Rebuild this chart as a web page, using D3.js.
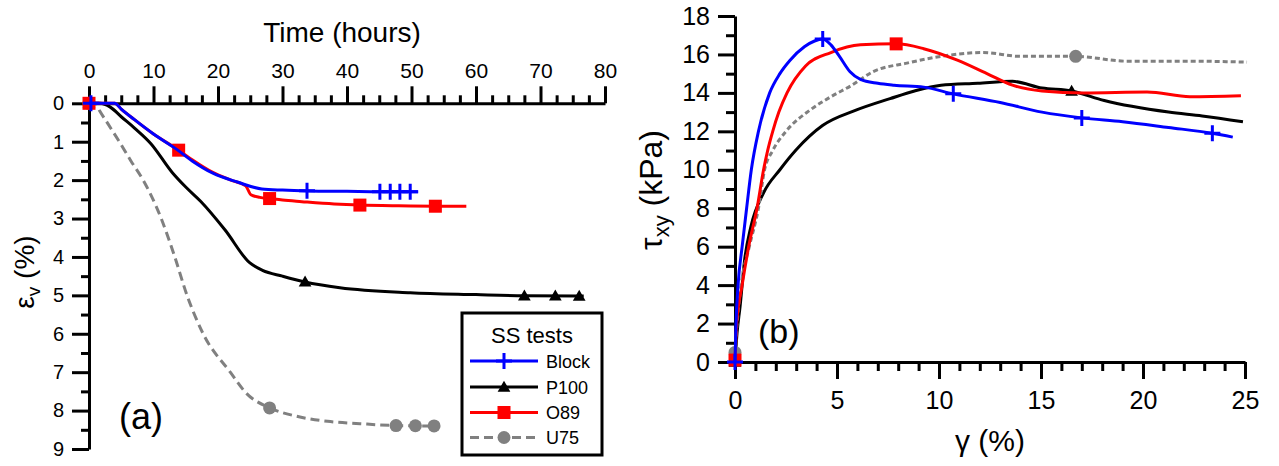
<!DOCTYPE html>
<html><head><meta charset="utf-8">
<script src="https://cdn.jsdelivr.net/npm/d3@7"></script>
<style>body{margin:0;background:#fff} svg text{font-family:"Liberation Sans",Arial,sans-serif;fill:#000}</style>
</head><body><svg id="c" width="1279" height="466"></svg>
<script>
// ---------- tick labels ----------
const timeTicks = [0,10,20,30,40,50,60,70,80];
const timeMinor = [2.5,5,7.5,12.5,15,17.5,22.5,25,27.5,32.5,35,37.5,42.5,45,47.5,52.5,55,57.5,62.5,65,67.5,72.5,75,77.5];
const epsTicks = [0,1,2,3,4,5,6,7,8,9];
const epsMinor = [0.5,1.5,2.5,3.5,4.5,5.5,6.5,7.5,8.5];
const gammaTicks = [0,5,10,15,20,25];
const gammaMinor = [1,2,3,4,6,7,8,9,11,12,13,14,16,17,18,19,21,22,23,24];
const tauTicks = [0,2,4,6,8,10,12,14,16,18];
const tauMinor = [1,3,5,7,9,11,13,15,17];

// ---------- series names ----------
const seriesNames = ["Block","P100","O89","U75"];

// ---------- panel (a): time (h) vs volumetric strain (%) ----------
const blockT  = [0,0.3,2,4,5,7,10,13.6,16,19.2,23,26.8,30,34,40,45,51];
const blockEv = [0,0,0,0,0.15,0.42,0.8,1.2,1.5,1.82,2.05,2.23,2.26,2.28,2.29,2.3,2.3];
const blockMkT = [0.3,33.8,45.1,46.7,48.2,49.8];

const p100T  = [0,1.7,3.3,5,7.1,9.6,12.9,15,17.3,21.1,24.9,26.9,30,33.5,38.9,49.8,60,67.5,76.7];
const p100Ev = [0,0,0.1,0.35,0.65,1.05,1.8,2.18,2.55,3.3,4.15,4.35,4.5,4.65,4.8,4.93,4.98,5.01,5.02];
const p100MkT = [0,33.5,67.5,72.3,76];

const o89T  = [0,2,4,5,7,10,13.9,16,19.2,22,24.3,25.1,26.5,28,30,33,38,42,48,54,58.5];
const o89Ev = [0,0,0,0.15,0.42,0.8,1.22,1.47,1.8,2.0,2.15,2.38,2.45,2.48,2.52,2.56,2.62,2.65,2.67,2.68,2.68];
const o89MkT = [0,13.9,28,42,53.7];

const u75T  = [0,1,1.6,3,4.7,6.5,8.4,11.2,13.3,15.2,17.7,21.9,24.4,28,32,37,42,47.6,53.5];
const u75Ev = [0,0,0.18,0.55,1.0,1.5,2.0,3.0,4.0,5.0,6.0,7.0,7.55,7.93,8.14,8.28,8.34,8.39,8.4];
const u75MkT = [0,28,47.6,50.6,53.5];

// ---------- panel (b): shear strain (%) vs shear stress (kPa) ----------
const blockG   = [0,0.05,0.15,0.35,0.57,0.8,1.15,1.7,2.2,2.7,3.4,3.9,4.3,4.7,5.12,5.64,6.15,7.0,7.8,9.25,10.7,13,15.05,17,19,21.25,23.4,24.4];
const blockTau = [0,2,4,6,8,10,12,14,15,15.7,16.4,16.7,16.8,16.5,15.9,15.1,14.7,14.5,14.4,14.3,13.95,13.5,13.0,12.7,12.5,12.2,11.9,11.7];
const blockMkG = [0,4.3,10.7,17,23.4];

const p100G   = [0,0.1,0.25,0.47,0.78,1.4,2.2,3.0,4.29,5.93,7.6,8.8,10.1,11.9,13.6,15.05,16.5,18.1,21.25,22.9,24.9];
const p100Tau = [0,1.5,2.9,5.3,7.05,8.8,10,11.04,12.3,13.1,13.7,14.1,14.4,14.5,14.6,14.25,14.1,13.6,13.0,12.8,12.5];
const p100MkG = [0,16.5];

const o89G   = [0,0.08,0.35,0.67,1.08,1.4,1.6,1.85,2.15,2.55,3.46,4.7,6.15,7.9,9.25,10.9,12.35,13.6,15.05,17.1,20.2,22.3,24.8];
const o89Tau = [0.1,2,4,6,8,10,11,12,13,14,15.4,16.1,16.5,16.55,16.3,15.7,15.0,14.4,14.1,14.0,14.05,13.8,13.85];
const o89MkG = [0,7.9];

const u75G   = [0,0.1,0.3,0.7,1.15,1.45,1.85,2.5,3.67,4.7,5.73,6.76,8.43,10.1,12.15,14.0,16.7,19.2,22.3,25.1];
const u75Tau = [0.5,2,4,6,8,10,11,12,13.1,13.8,14.4,15.1,15.55,15.9,16.1,15.9,15.9,15.65,15.65,15.6];
const u75MkG = [0,16.7];

// ---------- drawing ----------
const svg = d3.select("#c");
svg.append("rect").attr("width",1279).attr("height",466).attr("fill","#fff");

const colors = {Block:"#0000ff", P100:"#000000", O89:"#ff0000", U75:"#808080"};

const xL = d3.scaleLinear().domain([0,80]).range([89,605]);
const yL = d3.scaleLinear().domain([0,9]).range([103.3,449]);
const xR = d3.scaleLinear().domain([0,25]).range([735,1245]);
const yR = d3.scaleLinear().domain([0,18]).range([362,16]);

function styleAxis(g, fs){
  g.attr("font-family",'"Liberation Sans",Arial,sans-serif').attr("font-size",fs);
  g.select(".domain").attr("stroke","#000").attr("stroke-width",3);
  g.selectAll(".tick line").attr("stroke","#000").attr("stroke-width",3);
  g.selectAll(".tick text").attr("fill","#000");
}
function minorAxis(axis, g){
  g.call(axis.tickFormat(""));
  g.select(".domain").remove();
  g.selectAll(".tick line").attr("stroke","#000").attr("stroke-width",3);
}

// Panel (a) axes
minorAxis(d3.axisTop(xL).tickValues(timeMinor).tickSize(8), svg.append("g").attr("transform","translate(0,103.3)"));
styleAxis(svg.append("g").attr("transform","translate(0,103.3)")
  .call(d3.axisTop(xL).tickValues(timeTicks).tickSize(17).tickSizeOuter(0).tickPadding(8)), 21);
minorAxis(d3.axisLeft(yL).tickValues(epsMinor).tickSize(8), svg.append("g").attr("transform","translate(89,0)"));
styleAxis(svg.append("g").attr("transform","translate(89,0)")
  .call(d3.axisLeft(yL).tickValues(epsTicks).tickSize(17).tickSizeOuter(0).tickPadding(8)), 20);

// Panel (b) axes
minorAxis(d3.axisBottom(xR).tickValues(gammaMinor).tickSize(9), svg.append("g").attr("transform","translate(0,362)"));
styleAxis(svg.append("g").attr("transform","translate(0,362)")
  .call(d3.axisBottom(xR).tickValues(gammaTicks).tickSize(17).tickSizeOuter(0).tickPadding(12)), 25);
minorAxis(d3.axisLeft(yR).tickValues(tauMinor).tickSize(9), svg.append("g").attr("transform","translate(735,0)"));
styleAxis(svg.append("g").attr("transform","translate(735,0)")
  .call(d3.axisLeft(yR).tickValues(tauTicks).tickSize(17).tickSizeOuter(0).tickPadding(8)), 25);

// markers
function marker(g, name, x, y){
  const c = colors[name];
  if(name==="Block"){
    g.append("path").attr("d",`M${x-8},${y}H${x+8}M${x},${y-8}V${y+8}`).attr("stroke",c).attr("stroke-width",3).attr("fill","none");
  } else if(name==="P100"){
    g.append("path").attr("d",d3.symbol(d3.symbolTriangle,70)()).attr("transform",`translate(${x},${y+1})`).attr("fill",c);
  } else if(name==="O89"){
    g.append("rect").attr("x",x-6.5).attr("y",y-6.5).attr("width",13).attr("height",13).attr("fill",c);
  } else {
    g.append("circle").attr("cx",x).attr("cy",y).attr("r",6.5).attr("fill",c);
  }
}

function drawSeries(g, name, xs, ys, xScale, yScale, mk, dash){
  const pts = xs.map((v,i)=>[v, ys[i]]);
  const line = d3.line().x(d=>xScale(d[0])).y(d=>yScale(d[1])).curve(d3.curveMonotoneX);
  g.append("path").datum(pts).attr("d",line).attr("fill","none")
    .attr("stroke",colors[name]).attr("stroke-width",3).attr("stroke-linejoin","round")
    .attr("stroke-dasharray",dash||null);
  const interp = d3.scaleLinear().domain(xs).range(ys);
  mk.forEach(v=>marker(g, name, xScale(v), yScale(interp(v))));
}

const gA = svg.append("g");
drawSeries(gA,"U75",u75T,u75Ev,xL,yL,u75MkT,"9,5");
drawSeries(gA,"P100",p100T,p100Ev,xL,yL,p100MkT);
drawSeries(gA,"O89",o89T,o89Ev,xL,yL,o89MkT);
drawSeries(gA,"Block",blockT,blockEv,xL,yL,blockMkT);

const gB = svg.append("g");
drawSeries(gB,"P100",p100G,p100Tau,xR,yR,p100MkG);
drawSeries(gB,"U75",u75G,u75Tau,xR,yR,u75MkG,"5,3");
drawSeries(gB,"O89",o89G,o89Tau,xR,yR,o89MkG);
drawSeries(gB,"Block",blockG,blockTau,xR,yR,blockMkG);

// titles and labels
svg.append("text").attr("x",342).attr("y",42).attr("text-anchor","middle").attr("font-size",28).text("Time (hours)");
const yl = svg.append("text").attr("transform","translate(34,272) rotate(-90)").attr("text-anchor","middle").attr("font-size",28);
yl.append("tspan").text("ε");
yl.append("tspan").attr("font-size",19).attr("dy",6).text("v");
yl.append("tspan").attr("dy",-6).text(" (%)");

const yr = svg.append("text").attr("transform","translate(662,190) rotate(-90)").attr("text-anchor","middle").attr("font-size",32);
yr.append("tspan").text("τ");
yr.append("tspan").attr("font-size",22).attr("dy",7).text("xy");
yr.append("tspan").attr("dy",-7).text(" (kPa)");

svg.append("text").attr("x",990).attr("y",451).attr("text-anchor","middle").attr("font-size",30).text("γ (%)");

svg.append("text").attr("x",119).attr("y",429).attr("font-size",36).text("(a)");
svg.append("text").attr("x",758).attr("y",343).attr("font-size",34).text("(b)");

// legend
const lg = svg.append("g");
lg.append("rect").attr("x",462).attr("y",313).attr("width",140).attr("height",142).attr("fill","#fff").attr("stroke","#000").attr("stroke-width",3);
lg.append("text").attr("x",532).attr("y",343).attr("text-anchor","middle").attr("font-size",22).text("SS tests");
const legY = [361,387,412.5,437.5];
seriesNames.forEach((n,i)=>{
  const y = legY[i];
  lg.append("line").attr("x1",470).attr("x2",538).attr("y1",y).attr("y2",y)
    .attr("stroke",colors[n]).attr("stroke-width",3).attr("stroke-dasharray", n==="U75"?"9,5":null);
  marker(lg, n, 504, y);
  lg.append("text").attr("x",546).attr("y",y+6.5).attr("font-size",18).text(n);
});
</script></body></html>
